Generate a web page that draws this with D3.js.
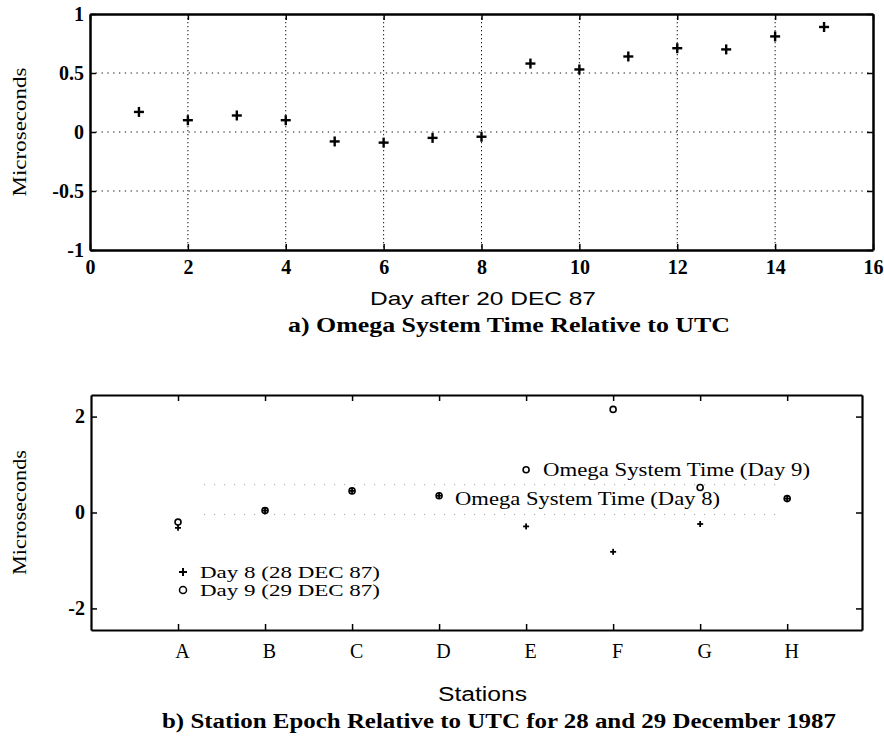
<!DOCTYPE html>
<html><head><meta charset="utf-8">
<script src="https://cdn.jsdelivr.net/npm/d3@7"></script>
<style>body{margin:0;background:#fff}</style>
</head><body>
<svg id="c" width="884" height="748"></svg>
<script>
// ---- data: panel a ----
const days = [1,2,3,4,5,6,7,8,9,10,11,12,13,14,15];
const omegaOffset = [0.17,0.10,0.14,0.10,-0.08,-0.09,-0.05,-0.04,0.58,0.53,0.64,0.71,0.70,0.81,0.89];
const xTicksA = [0,2,4,6,8,10,12,14,16];
const yTicksA = [-1,-0.5,0,0.5,1];
const yTickLabelsA = ["-1","-0.5","0","0.5","1"];
// ---- data: panel b ----
const stations = ["A","B","C","D","E","F","G","H"];
const day8 = [-0.32,0.04,0.45,0.35,-0.29,-0.82,-0.24,0.29];
const day9 = [-0.20,0.04,0.45,0.35,0.89,2.15,0.52,0.29];
const yTicksB = [-2,0,2];
const yTickLabelsB = ["-2","0","2"];
const omegaDay8 = -0.04, omegaDay9 = 0.58;

const svg = d3.select("#c");
const serif = "'Liberation Serif','DejaVu Serif',serif";
const sans = "'Liberation Sans',Arial,sans-serif";

// ================= panel a =================
const A = {l:90, r:873, t:14, b:250};
const xa = d3.scaleLinear().domain([0,16]).range([A.l,A.r]);
const ya = d3.scaleLinear().domain([-1,1]).range([A.b,A.t]);
const ga = svg.append("g");

// grid
ga.selectAll(".vg").data(xTicksA.filter(d=>d>0&&d<16)).join("line")
  .attr("x1",d=>xa(d)).attr("x2",d=>xa(d)).attr("y1",A.t).attr("y2",A.b)
  .attr("stroke","#111").attr("stroke-width",1).attr("stroke-dasharray","1.3,2.7");
ga.selectAll(".hg").data(yTicksA.filter(d=>d>-1&&d<1)).join("line")
  .attr("x1",A.l).attr("x2",A.r).attr("y1",d=>ya(d)).attr("y2",d=>ya(d))
  .attr("stroke","#111").attr("stroke-width",1).attr("stroke-dasharray","1.3,4.5");

function styleAxis(g, bold, w){
  g.attr("font-family",null).attr("font-size",null);
  g.select(".domain").attr("stroke","#000").attr("stroke-width",w);
  g.selectAll(".tick line").attr("stroke","#000").attr("stroke-width",1.5);
  g.selectAll("text").style("font-family",serif).style("font-weight",bold?"bold":"normal")
    .style("font-size","20px").attr("fill","#000");
}

const axA_b = d3.axisBottom(xa).tickValues(xTicksA).tickSizeInner(-6).tickSizeOuter(0).tickPadding(10).tickFormat(d3.format("d"));
const axA_t = d3.axisTop(xa).tickValues(xTicksA).tickSizeInner(-6).tickSizeOuter(0).tickFormat("");
const axA_l = d3.axisLeft(ya).tickValues(yTicksA).tickSizeInner(-6).tickSizeOuter(0).tickPadding(6).tickFormat((d,i)=>yTickLabelsA[i]);
const axA_r = d3.axisRight(ya).tickValues(yTicksA).tickSizeInner(-6).tickSizeOuter(0).tickFormat("");
[[axA_b,`translate(0,${A.b})`],[axA_t,`translate(0,${A.t})`],[axA_l,`translate(${A.l},0)`],[axA_r,`translate(${A.r},0)`]]
  .forEach(([ax,tr])=>styleAxis(ga.append("g").attr("transform",tr).call(ax), true, 2.5));

// markers "+"
const plusA = ga.selectAll(".pa").data(days).join("g")
  .attr("transform",(d,i)=>`translate(${xa(d)},${ya(omegaOffset[i])})`);
plusA.append("line").attr("x1",-5).attr("x2",5).attr("stroke","#000").attr("stroke-width",2.4);
plusA.append("line").attr("y1",-5).attr("y2",5).attr("stroke","#000").attr("stroke-width",2.4);

// labels
svg.append("text").attr("transform",`translate(26,${(A.t+A.b)/2}) rotate(-90)`)
  .attr("text-anchor","middle").attr("font-family",serif).attr("font-size",19)
  .attr("textLength",129).attr("lengthAdjust","spacingAndGlyphs").text("Microseconds");
svg.append("text").attr("x",370).attr("y",305).attr("font-family",sans).attr("font-size",19)
  .attr("textLength",226).attr("lengthAdjust","spacingAndGlyphs").text("Day after 20 DEC 87");
svg.append("text").attr("x",288).attr("y",332).attr("font-family",serif).attr("font-weight","bold").attr("font-size",20)
  .attr("textLength",442).attr("lengthAdjust","spacingAndGlyphs").text("a)  Omega System Time Relative to UTC");

// ================= panel b =================
const B = {l:91, r:862, t:395, b:630};
const xb = d3.scaleLinear().domain([0,8.86]).range([B.l,B.r]);
const yb = d3.scaleLinear().domain([-2.45,2.45]).range([B.b,B.t]);
const gb = svg.append("g");
const idx = stations.map((s,i)=>i+1);

// omega system time reference lines (faint dotted)
[omegaDay9, omegaDay8].forEach(v=>{
  gb.append("line").attr("x1",xb(1.3)).attr("x2",xb(7.9)).attr("y1",yb(v)).attr("y2",yb(v))
    .attr("stroke","#999").attr("stroke-width",1).attr("stroke-dasharray","1,9");
});

const axB_b = d3.axisBottom(xb).tickValues(idx).tickSizeInner(-6).tickSizeOuter(0).tickPadding(14).tickFormat((d,i)=>stations[i]);
const axB_t = d3.axisTop(xb).tickValues(idx).tickSizeInner(-6).tickSizeOuter(0).tickFormat("");
const axB_l = d3.axisLeft(yb).tickValues(yTicksB).tickSizeInner(-6).tickSizeOuter(0).tickPadding(6).tickFormat((d,i)=>yTickLabelsB[i]);
const axB_r = d3.axisRight(yb).tickValues(yTicksB).tickSizeInner(-6).tickSizeOuter(0).tickFormat("");
styleAxis(gb.append("g").attr("transform",`translate(0,${B.b})`).call(axB_b), false, 2.2);
styleAxis(gb.append("g").attr("transform",`translate(0,${B.t})`).call(axB_t), false, 2.2);
styleAxis(gb.append("g").attr("transform",`translate(${B.l},0)`).call(axB_l), true, 2.2);
styleAxis(gb.append("g").attr("transform",`translate(${B.r},0)`).call(axB_r), false, 2.2);
gb.selectAll(".tick text").filter(function(){return stations.includes(this.textContent);}).attr("dx",4);

// day 9 circles
gb.selectAll(".o9").data(idx).join("circle")
  .attr("cx",d=>xb(d)).attr("cy",(d,i)=>yb(day9[i])).attr("r",3)
  .attr("fill","none").attr("stroke","#000").attr("stroke-width",1.6);
// day 8 plus
const plusB = gb.selectAll(".p8").data(idx).join("g")
  .attr("transform",(d,i)=>`translate(${xb(d)},${yb(day8[i])})`);
plusB.append("line").attr("x1",-3).attr("x2",3).attr("stroke","#000").attr("stroke-width",1.8);
plusB.append("line").attr("y1",-3).attr("y2",3).attr("stroke","#000").attr("stroke-width",1.8);

// legend
const lg = gb.append("g");
const lp = lg.append("g").attr("transform","translate(183,572)");
lp.append("line").attr("x1",-4).attr("x2",4).attr("stroke","#000").attr("stroke-width",2);
lp.append("line").attr("y1",-4).attr("y2",4).attr("stroke","#000").attr("stroke-width",2);
lg.append("circle").attr("cx",183).attr("cy",590).attr("r",3.5).attr("fill","none").attr("stroke","#000").attr("stroke-width",1.5);
lg.append("text").attr("x",200).attr("y",578).attr("font-family",serif).attr("font-size",16)
  .attr("textLength",180).attr("lengthAdjust","spacingAndGlyphs").text("Day 8 (28 DEC 87)");
lg.append("text").attr("x",200).attr("y",596).attr("font-family",serif).attr("font-size",16)
  .attr("textLength",180).attr("lengthAdjust","spacingAndGlyphs").text("Day 9 (29 DEC 87)");

// annotations
gb.append("text").attr("x",543).attr("y",476).attr("font-family",serif).attr("font-size",19)
  .attr("textLength",267).attr("lengthAdjust","spacingAndGlyphs").text("Omega System Time (Day 9)");
gb.append("text").attr("x",455).attr("y",505).attr("font-family",serif).attr("font-size",19)
  .attr("textLength",265).attr("lengthAdjust","spacingAndGlyphs").text("Omega System Time (Day 8)");

// axis titles
svg.append("text").attr("transform",`translate(26,${(B.t+B.b)/2}) rotate(-90)`)
  .attr("text-anchor","middle").attr("font-family",serif).attr("font-size",19)
  .attr("textLength",125).attr("lengthAdjust","spacingAndGlyphs").text("Microseconds");
svg.append("text").attr("x",438).attr("y",701).attr("font-family",sans).attr("font-size",20)
  .attr("textLength",89).attr("lengthAdjust","spacingAndGlyphs").text("Stations");
svg.append("text").attr("x",162).attr("y",728).attr("font-family",serif).attr("font-weight","bold").attr("font-size",20)
  .attr("textLength",674).attr("lengthAdjust","spacingAndGlyphs").text("b)  Station Epoch Relative to UTC for 28 and 29 December 1987");
</script>
</body></html>
